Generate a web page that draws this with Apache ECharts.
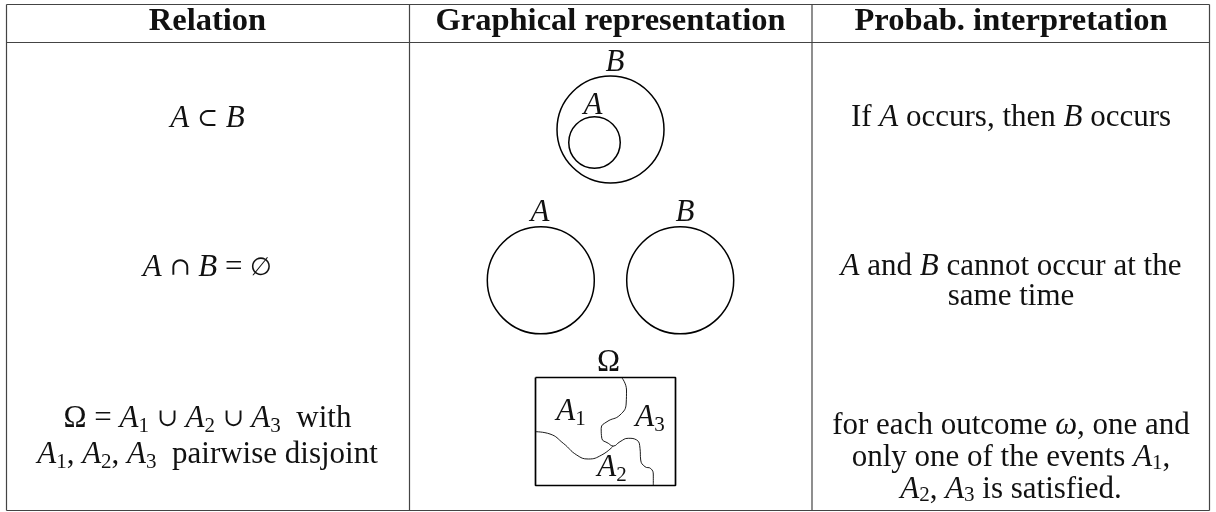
<!DOCTYPE html>
<html>
<head>
<meta charset="utf-8">
<script src="https://cdn.jsdelivr.net/npm/echarts@6/dist/echarts.min.js"></script>
<style>
  html, body { margin: 0; background: #fff; }
  #main { width: 1216px; height: 512px; }
</style>
</head>
<body>
<div id="main"></div>
<script>
// table content ({i|..} = italic math, {s|..} = subscript, {m|..} = math symbol)
const headers = ["Relation", "Graphical representation", "Probab. interpretation"];
const relations = [
  "{i|A} {m|⊂} {i|B}",
  "{i|A} {m|∩} {i|B} = {m|∅}",
  "Ω = {i|A}{s|1} {m|∪} {i|A}{s|2} {m|∪} {i|A}{s|3}  with\n{i|A}{s|1}, {i|A}{s|2}, {i|A}{s|3}  pairwise disjoint"
];
const interpretations = [
  "If {i|A} occurs, then {i|B} occurs",
  "{i|A} and {i|B} cannot occur at the\nsame time",
  "for each outcome {i|ω}, one and\nonly one of the events {i|A}{s|1},\n{i|A}{s|2}, {i|A}{s|3} is satisfied."
];

// diagram geometry (drawing units of the hidden grid, 1 unit = 1 px)
const circles = [
  // [centre x, centre y, diameter, name]
  [610.5, 129.5, 107, "B"],
  [594.5, 142.5, 51.5, "A"],
  [540.8, 280.3, 107, "A"],
  [680.2, 280.3, 107, "B"]
];
const omegaBox = [[535.5, 377.5], [675.5, 377.5], [675.5, 485.5], [535.5, 485.5], [535.5, 377.5]];
const borderA = [
  [621.7, 377.5], [626.5, 390], [626.2, 403], [620, 415], [607, 421.7], [601.2, 428.3],
  [601.8, 438.3], [608.3, 443.3], [613.3, 446], [620, 441.7], [628.3, 438.3], [636.7, 440],
  [640, 448.3], [640.7, 460], [645, 466.7], [650.7, 468.5], [653.3, 475], [653.3, 485.5]
];
const borderB = [
  [535.5, 431.7], [550, 434], [563.3, 443.3], [576.7, 455], [588.3, 459], [601.7, 455], [613.3, 446]
];
const setLabels = [
  // [x, y, text]
  [615, 63, "{i|B}"],
  [593, 106, "{i|A}"],
  [540, 213, "{i|A}"],
  [685, 213, "{i|B}"],
  [608.5, 363, "Ω"],
  [571, 412, "{i|A}{s|1}"],
  [650, 418, "{i|A}{s|3}"],
  [612, 468, "{i|A}{s|2}"]
];

const SERIF = '"Liberation Serif", "DejaVu Serif", serif';
const MATH = '"DejaVu Serif", serif';

function richSet(lh) {
  return {
    i: { fontFamily: SERIF, fontStyle: "italic", fontSize: 31, lineHeight: lh, fill: "#111" },
    m: { fontFamily: MATH, fontSize: 25, lineHeight: lh, fill: "#111" },
    s: { fontFamily: SERIF, fontSize: 21, lineHeight: 21, verticalAlign: "bottom", fill: "#111" }
  };
}

function textEl(x, y, text, lh, bold) {
  return {
    type: "text",
    x: x,
    y: y,
    z: 10,
    style: {
      text: text,
      fontFamily: SERIF,
      fontSize: bold ? 32.5 : 31,
      fontWeight: bold ? "bold" : "normal",
      lineHeight: lh,
      fill: "#111",
      align: "center",
      verticalAlign: "middle",
      textAlign: "center",
      textVerticalAlign: "middle",
      rich: richSet(lh)
    }
  };
}

const colX = [6.5, 409.5, 812, 1209.5];
const rowY = [4.5, 42.5, 510.5];
const lineColor = "#444";

const graphics = [];
// table rules
rowY.forEach(function (y) {
  graphics.push({ type: "line", shape: { x1: colX[0], y1: y, x2: colX[3], y2: y },
    style: { stroke: lineColor, lineWidth: 1.2 } });
});
colX.forEach(function (x) {
  graphics.push({ type: "line", shape: { x1: x, y1: rowY[0], x2: x, y2: rowY[2] },
    style: { stroke: lineColor, lineWidth: 1.2 } });
});
// header
const centers = [207.5, 610.5, 1011];
headers.forEach(function (h, k) {
  graphics.push(textEl(centers[k], 22, h, 36, true));
});
// body cells
const relY = [119, 268, 437];
relations.forEach(function (t, k) {
  graphics.push(textEl(centers[0], relY[k], t, 36, false));
});
const intY = [118, 282, 458];
const intLH = [30, 30, 32];
interpretations.forEach(function (t, k) {
  graphics.push(textEl(centers[2], intY[k], t, intLH[k], false));
});
setLabels.forEach(function (l) {
  graphics.push(textEl(l[0], l[1], l[2], 36, false));
});

const option = {
  animation: false,
  grid: { left: 0, right: 0, top: 0, bottom: 0 },
  xAxis: { type: "value", min: 0, max: 1216, show: false },
  yAxis: { type: "value", min: 0, max: 512, inverse: true, show: false },
  series: [
    {
      name: "sets",
      type: "scatter",
      silent: true,
      data: circles,
      symbol: "circle",
      symbolSize: function (v) { return v[2]; },
      itemStyle: { color: "rgba(0,0,0,0)", borderColor: "#000", borderWidth: 1.5, opacity: 1 }
    },
    {
      name: "omega",
      type: "line",
      silent: true,
      data: omegaBox,
      symbol: "none",
      lineStyle: { color: "#000", width: 1.7 }
    },
    {
      name: "borderA",
      type: "line",
      silent: true,
      smooth: 0.5,
      data: borderA,
      symbol: "none",
      lineStyle: { color: "#000", width: 0.9 }
    },
    {
      name: "borderB",
      type: "line",
      silent: true,
      smooth: 0.5,
      data: borderB,
      symbol: "none",
      lineStyle: { color: "#000", width: 0.9 }
    }
  ],
  graphic: graphics
};

const myChart = echarts.init(document.getElementById("main"));
myChart.setOption(option);
window.addEventListener("resize", () => {
  myChart.resize();
});
</script>
</body>
</html>
